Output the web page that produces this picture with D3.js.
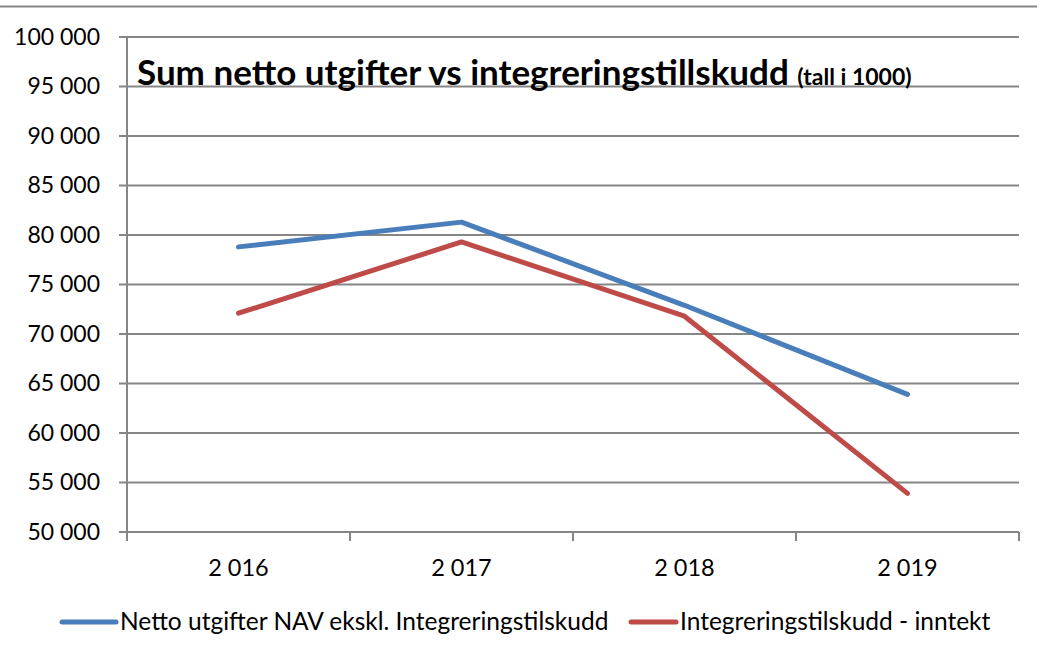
<!DOCTYPE html>
<html>
<head>
<meta charset="utf-8">
<script src="https://cdn.jsdelivr.net/npm/d3@7"></script>
<style>
  body { margin: 0; background: #fff; }
  svg text { font-family: Lato, "Open Sans", sans-serif; fill: #000; }
</style>
</head>
<body>
<script>
var years = ["2 016", "2 017", "2 018", "2 019"];
var nettoNav = [78800, 81300, 72900, 63900];
var integrering = [72100, 79300, 71800, 53900];
var yTicks = [50000, 55000, 60000, 65000, 70000, 75000, 80000, 85000, 90000, 95000, 100000];

var series = [
  {name: "Netto utgifter NAV ekskl. Integreringstilskudd", values: nettoNav, color: "#4A7EBB"},
  {name: "Integreringstilskudd - inntekt", values: integrering, color: "#BE4B48"}
];

var W = 1037, H = 657;
var margin = {top: 37, right: 18, bottom: 125, left: 127},
    width = W - margin.left - margin.right,
    height = H - margin.top - margin.bottom;

var svg = d3.select("body").append("svg")
    .attr("width", W)
    .attr("height", H);

// outer frame line at top
svg.append("line")
    .attr("x1", 0).attr("x2", W)
    .attr("y1", 6.5).attr("y2", 6.5)
    .attr("stroke", "#868686").attr("stroke-width", 2);

var g = svg.append("g")
    .attr("transform", "translate(" + margin.left + "," + margin.top + ")");

var x = d3.scaleBand()
    .domain(years)
    .range([0, width]);

var y = d3.scaleLinear()
    .domain([50000, 100000])
    .range([height, 0]);

var fmt = function(d) { return d3.format(",")(d).replace(",", " "); };

// gridlines
g.selectAll(".grid")
    .data(yTicks)
  .enter().append("line")
    .attr("x1", -8).attr("x2", width)
    .attr("y1", function(d) { return y(d); })
    .attr("y2", function(d) { return y(d); })
    .attr("stroke", "#868686").attr("stroke-width", 2);

// y axis line
g.append("line")
    .attr("x1", 0).attr("x2", 0)
    .attr("y1", 0).attr("y2", height + 9)
    .attr("stroke", "#868686").attr("stroke-width", 2);

// x tick marks at band edges
var edges = years.map(function(d) { return x(d); }).concat([width]);
g.selectAll(".xtick")
    .data(edges.slice(1))
  .enter().append("line")
    .attr("x1", function(d) { return d; }).attr("x2", function(d) { return d; })
    .attr("y1", height).attr("y2", height + 9)
    .attr("stroke", "#868686").attr("stroke-width", 2);

// y labels
g.selectAll(".ylab")
    .data(yTicks)
  .enter().append("text")
    .attr("x", -27)
    .attr("y", function(d) { return y(d); })
    .attr("dy", "0.34em")
    .attr("text-anchor", "end")
    .style("font-size", "23px")
    .text(fmt);

// x labels
g.selectAll(".xlab")
    .data(years)
  .enter().append("text")
    .attr("x", function(d) { return x(d) + x.bandwidth() / 2; })
    .attr("y", height + 36)
    .attr("dy", "0.34em")
    .attr("text-anchor", "middle")
    .style("font-size", "23.5px")
    .text(function(d) { return d; });

// lines
var line = d3.line()
    .x(function(d, i) { return x(years[i]) + x.bandwidth() / 2; })
    .y(function(d) { return y(d); });

g.selectAll(".series")
    .data(series)
  .enter().append("path")
    .attr("d", function(s) { return line(s.values); })
    .attr("fill", "none")
    .attr("stroke", function(s) { return s.color; })
    .attr("stroke-width", 5)
    .attr("stroke-linecap", "round")
    .attr("stroke-linejoin", "round");

// title
var title = svg.append("text")
    .attr("x", 137)
    .attr("y", 85)
    .style("font-weight", "bold")
    .style("font-size", "35px");
title.append("tspan").text("Sum netto utgifter vs integreringstillskudd ");
title.append("tspan").style("font-size", "23px").text("(tall i 1000)");

// legend
var legendPos = [{lx: 62, tx: 120}, {lx: 631, tx: 680}];
var leg = svg.selectAll(".legend")
    .data(series)
  .enter().append("g");

leg.append("line")
    .attr("x1", function(d, i) { return legendPos[i].lx; })
    .attr("x2", function(d, i) { return legendPos[i].tx - 4; })
    .attr("y1", 622).attr("y2", 622)
    .attr("stroke", function(d) { return d.color; })
    .attr("stroke-width", 5)
    .attr("stroke-linecap", "round");

leg.append("text")
    .attr("x", function(d, i) { return legendPos[i].tx; })
    .attr("y", 622)
    .attr("dy", "0.34em")
    .style("font-size", "24.5px")
    .text(function(d) { return d.name; });
</script>
</body>
</html>
